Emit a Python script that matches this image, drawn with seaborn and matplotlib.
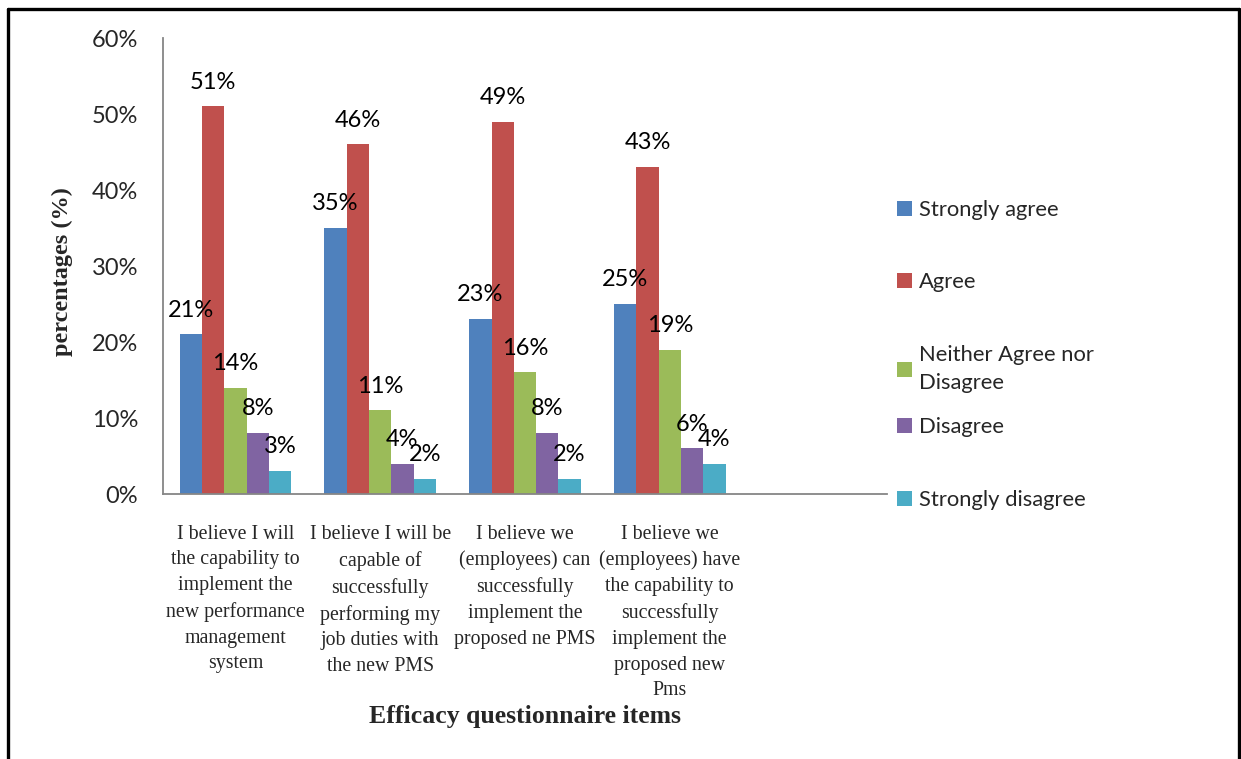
import numpy as np
import pandas as pd
import seaborn as sns
import matplotlib
matplotlib.use("Agg")
import matplotlib.pyplot as plt
from matplotlib.ticker import PercentFormatter
from matplotlib.lines import Line2D

# ---------------- data ----------------
items = [
    "I believe I will\nthe capability to\nimplement the\nnew performance\nmanagement\nsystem",
    "I believe I will be\ncapable of\nsuccessfully\nperforming my\njob duties with\nthe new PMS",
    "I believe we\n(employees) can\nsuccessfully\nimplement the\nproposed ne PMS",
    "I believe we\n(employees) have\nthe capability to\nsuccessfully\nimplement the\nproposed new\nPms",
    "",
]
responses = ["Strongly agree", "Agree", "Neither Agree nor\nDisagree", "Disagree", "Strongly disagree"]
strongly_agree = [21, 35, 23, 25]
agree = [51, 46, 49, 43]
neither = [14, 11, 16, 19]
disagree = [8, 4, 8, 6]
strongly_disagree = [3, 2, 2, 4]
colors = ["#4F81BD", "#C0504D", "#9BBB59", "#8064A2", "#4BACC6"]
y_ticks = [0, 10, 20, 30, 40, 50, 60]

series = [strongly_agree, agree, neither, disagree, strongly_disagree]
rows = []
for resp, vals in zip(responses, series):
    for item, v in zip(items[:4], vals):
        rows.append({"item": item, "response": resp, "value": v})
df = pd.DataFrame(rows)

# ---------------- figure ----------------
sns.set_style("white")
fig = plt.figure(figsize=(12.41, 7.59), dpi=100)
ax = fig.add_axes([163 / 1241, 1 - 494 / 759, (887 - 163) / 1241, (494 - 38) / 759])

sns.barplot(data=df, x="item", y="value", hue="response", order=items,
            hue_order=responses, palette=colors, width=0.77, ax=ax,
            saturation=1, edgecolor="none", linewidth=0)

handles, labels = ax.get_legend_handles_labels()
if ax.get_legend() is not None:
    ax.get_legend().remove()

# data labels
for cont in ax.containers:
    for bar in cont:
        h = bar.get_height()
        if np.isnan(h):
            continue
        ax.annotate(f"{h:.0f}%", (bar.get_x() + bar.get_width() / 2, h),
                    xytext=(0, 17.5), textcoords="offset points",
                    ha="center", va="center", fontsize=17, family="Lato",
                    color="black")

# axes
ax.set_xlim(-0.5, 4.5)
ax.set_ylim(0, 60)
ax.set_yticks(y_ticks)
ax.yaxis.set_major_formatter(PercentFormatter(decimals=0))
ax.set_xticks(np.arange(-0.5, 5.0, 1.0), labels=[""] * 6)
ax.set_xticks(range(4), labels=items[:4], minor=True)
ax.tick_params(axis="x", which="major", length=4.5, width=1.3, color="#868686", direction="out")
ax.tick_params(axis="x", which="minor", length=0, pad=22, labelsize=14.3)
ax.tick_params(axis="y", length=6, width=1.3, color="#868686", direction="out",
               labelsize=17, pad=12)
for lab in ax.get_xticklabels(minor=True):
    lab.set_family("Liberation Serif")
    lab.set_linespacing(1.48)
for lab in ax.get_yticklabels():
    lab.set_family("Lato")

for s in ["top", "right"]:
    ax.spines[s].set_visible(False)
for s in ["left", "bottom"]:
    ax.spines[s].set_color("#868686")
    ax.spines[s].set_linewidth(1.3)

ax.set_xlabel("")
ax.set_ylabel("")
fig.text(525 / 1241, 1 - 716 / 759, "Efficacy questionnaire items", ha="center", va="center",
         fontsize=18.5, fontweight="bold", family="Liberation Serif")
fig.text(62 / 1241, 1 - 272 / 759, "percentages (%)", ha="center", va="center",
         rotation=90, fontsize=17.5, fontweight="bold", family="Liberation Serif")

# legend entries placed one by one
leg_y = [208, 280, 353, 425, 498]
for h, lab, y in zip(handles, labels, leg_y):
    lg = fig.legend([h], [lab], loc="upper left", bbox_to_anchor=(897 / 1241, 1 - (y - 8) / 759),
                    frameon=False, handlelength=0.7, handleheight=0.7, handletextpad=0.3,
                    borderpad=0, borderaxespad=0,
                    prop={"family": "Lato", "size": 15.8})
    for t in lg.get_texts():
        t.set_linespacing(1.5)

# outer frame (left, top, right)
lw = 2.4
fig.add_artist(Line2D([8 / 1241, 8 / 1241], [0, 1 - 9 / 759], color="black", lw=lw, transform=fig.transFigure))
fig.add_artist(Line2D([8 / 1241, 1239 / 1241], [1 - 9 / 759, 1 - 9 / 759], color="black", lw=lw, transform=fig.transFigure))
fig.add_artist(Line2D([1239 / 1241, 1239 / 1241], [0, 1 - 9 / 759], color="black", lw=lw, transform=fig.transFigure))

fig.savefig("out.png", dpi=100)
